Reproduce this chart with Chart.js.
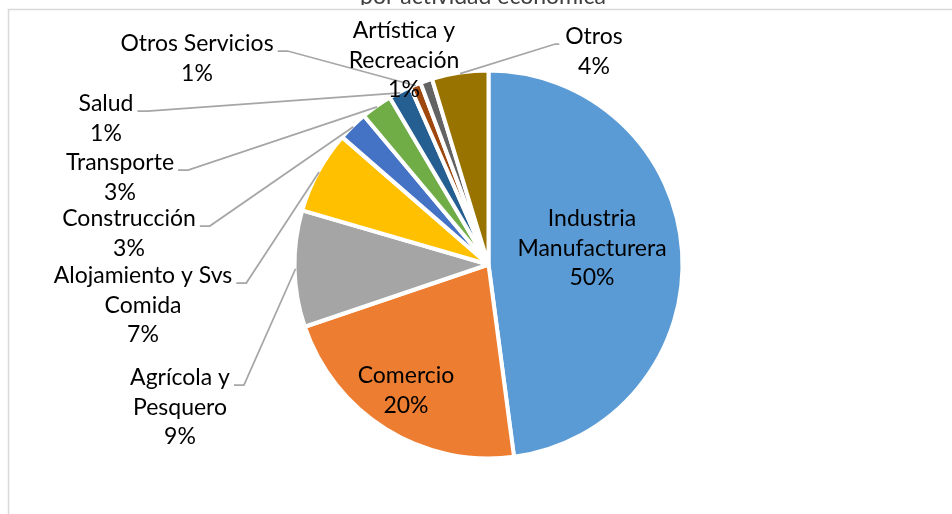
<!DOCTYPE html>
<html>
<head>
<meta charset="utf-8">
<script src="https://cdn.jsdelivr.net/npm/chart.js@4/dist/chart.umd.min.js"></script>
<style>
  html, body { margin: 0; padding: 0; background: #fff; }
  #wrap { width: 952px; height: 514px; position: relative; }
</style>
</head>
<body>
<div id="wrap"><canvas id="pieChart" width="952" height="514"></canvas></div>
<script>
// Sectors, clockwise from 12 o'clock
const sectors = [
  'Industria Manufacturera', 'Comercio', 'Agrícola y Pesquero', 'Alojamiento y Svs Comida',
  'Construcción', 'Transporte', 'Salud', 'Otros Servicios', 'Artística y Recreación', 'Otros'
];
// Slice shares
const shares = [47.9, 21.9, 9.7, 6.9, 2.5, 2.6, 1.9, 0.9, 1.0, 4.7];
// Percent labels as printed on the chart
const pctLabels = ['50%', '20%', '9%', '7%', '3%', '3%', '1%', '1%', '1%', '4%'];
// Label text lines (without the percent)
const labelLines = [
  ['Industria', 'Manufacturera'], ['Comercio'], ['Agrícola y', 'Pesquero'], ['Alojamiento y Svs', 'Comida'],
  ['Construcción'], ['Transporte'], ['Salud'], ['Otros Servicios'], ['Artística y', 'Recreación'], ['Otros']
];
const colors = ['#5B9BD5', '#ED7D31', '#A5A5A5', '#FFC000', '#4472C4', '#70AD47', '#255E91', '#9E480E', '#636363', '#997300'];

// Label placement (center x, first line y, leader side)
const labelAt = [
  { x: 592, y: 219, leader: null },
  { x: 406, y: 376, leader: null },
  { x: 180, y: 378, leader: 'right' },
  { x: 143, y: 276, leader: 'right' },
  { x: 129, y: 219, leader: 'right' },
  { x: 120, y: 163, leader: 'right' },
  { x: 106, y: 104, leader: 'right' },
  { x: 197, y: 44,  leader: 'right' },
  { x: 404, y: 31,  leader: null },
  { x: 594, y: 37,  leader: 'left' }
];

const FONT = '23px Lato';
const LINE_H = 29.5;

const labelsPlugin = {
  id: 'excelLabels',
  beforeDraw(chart) {
    const ctx = chart.ctx;
    ctx.save();
    // frame
    ctx.strokeStyle = '#D9D9D9';
    ctx.lineWidth = 1.5;
    ctx.strokeRect(8.5, 9.5, 960, 520);
    // title, cut off by the top edge
    ctx.beginPath();
    ctx.rect(0, 0, 952, 5);
    ctx.clip();
    ctx.font = FONT;
    ctx.fillStyle = '#404040';
    ctx.textAlign = 'center';
    ctx.textBaseline = 'alphabetic';
    ctx.fillText('por actividad económica', 483, 4);
    ctx.restore();
  },
  afterDraw(chart) {
    const ctx = chart.ctx;
    const meta = chart.getDatasetMeta(0);
    ctx.save();
    ctx.font = FONT;
    ctx.textAlign = 'center';
    ctx.textBaseline = 'middle';
    meta.data.forEach((arc, i) => {
      const pos = labelAt[i];
      const lines = labelLines[i].concat([pctLabels[i]]);
      if (pos.leader) {
        const { x, y, startAngle, endAngle, outerRadius } = arc.getProps(['x', 'y', 'startAngle', 'endAngle', 'outerRadius'], true);
        const mid = (startAngle + endAngle) / 2;
        const ex = x + Math.cos(mid) * (outerRadius - 1);
        const ey = y + Math.sin(mid) * (outerRadius - 1);
        const w = ctx.measureText(lines[0]).width;
        const ly = pos.y + 7;
        let sx, kx;
        if (pos.leader === 'right') { sx = pos.x + w / 2 + 4; kx = sx + 10; }
        else { sx = pos.x - w / 2 - 6; kx = sx - 4; }
        ctx.strokeStyle = '#A6A6A6';
        ctx.lineWidth = 1.75;
        ctx.beginPath();
        ctx.moveTo(sx, ly);
        ctx.lineTo(kx, ly);
        ctx.lineTo(ex, ey);
        ctx.stroke();
      }
      ctx.fillStyle = '#000000';
      lines.forEach((t, j) => ctx.fillText(t, pos.x, pos.y + j * LINE_H));
    });
    ctx.restore();
  }
};

new Chart(document.getElementById('pieChart'), {
  type: 'pie',
  data: {
    labels: sectors,
    datasets: [{
      data: shares,
      backgroundColor: colors,
      borderColor: '#ffffff',
      borderWidth: 4
    }]
  },
  options: {
    responsive: false,
    animation: false,
    layout: { padding: { left: 25, right: 0, top: 68.5, bottom: 53.5 } },
    plugins: {
      legend: { display: false },
      tooltip: { enabled: false },
      title: { display: false }
    }
  },
  plugins: [labelsPlugin]
});
</script>
</body>
</html>
